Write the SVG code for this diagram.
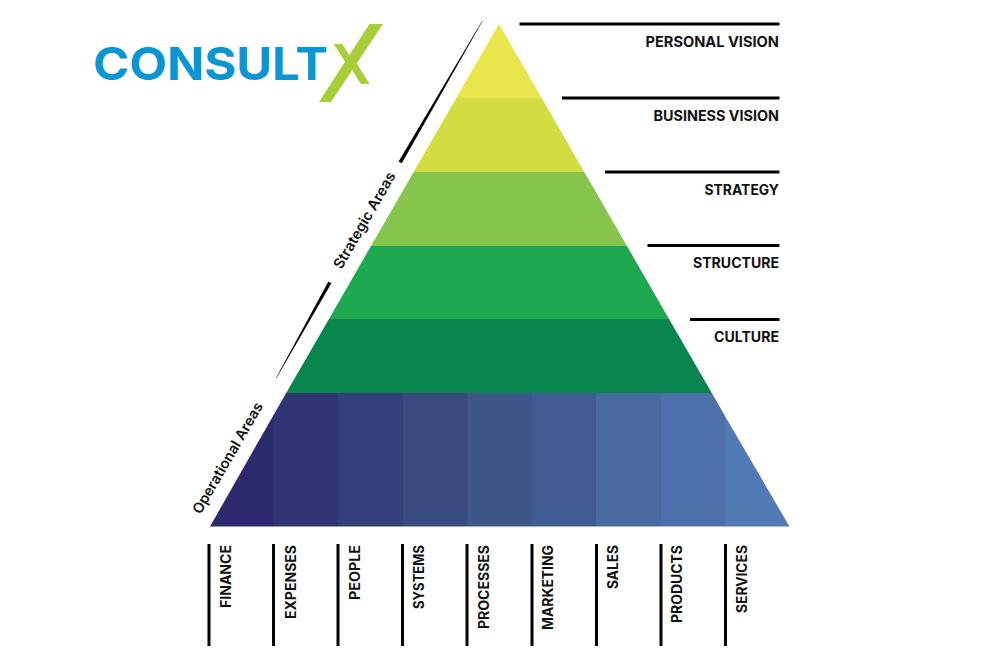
<svg xmlns="http://www.w3.org/2000/svg" width="1000" height="667" viewBox="0 0 1000 667">
<style>
.l{font-family:Inter,"Open Sans","Liberation Sans",sans-serif;font-weight:700;font-size:14px;fill:#111;}
.h{text-anchor:end;}
.r{font-size:14.500px;font-weight:600;}
.rule{stroke:#000;stroke-width:3;fill:none;}
.logo{font-family:Inter,"Liberation Sans",sans-serif;font-weight:700;font-size:45px;fill:#0a96d4;}
.x{font-family:"Liberation Sans",Arial,sans-serif;font-weight:700;font-size:57px;fill:#a6ce39;}
</style>
<rect width="1000" height="667" fill="#fff"/>
<g id="logo">
<text class="logo" x="93" y="80" textLength="235" lengthAdjust="spacingAndGlyphs">CONSULT</text>
<text class="x" x="332" y="84">X</text>
<polygon points="369.500,24 383,24 331,102 319,102" fill="#a6ce39"/>
</g>
<g id="pyramid">
<polygon id="level-personal-vision" points="499,24 541.700,98 456.300,98" fill="#e9e64c"/>
<polygon id="level-business-vision" points="456.300,98 541.700,98 584.300,172 413.700,172" fill="#d1dd40"/>
<polygon id="level-strategy" points="413.700,172 584.300,172 627,246 371,246" fill="#85c54e"/>
<polygon id="level-structure" points="371,246 627,246 669,319 329,319" fill="#1ea850"/>
<polygon id="level-culture" points="329,319 669,319 711.800,393 286.200,393" fill="#07854c"/>
<polygon id="col-finance" points="274,414.200 274,526.500 210,526.500" fill="#2c2a6d"/>
<polygon id="col-expenses" points="274,414.200 286.200,393 338,393 338,526.500 274,526.500" fill="#2e3572"/>
<rect id="col-people" x="338" y="393" width="65" height="133.500" fill="#33407a"/>
<rect id="col-systems" x="403" y="393" width="64" height="133.500" fill="#394a80"/>
<rect id="col-processes" x="467" y="393" width="65" height="133.500" fill="#3e5587"/>
<rect id="col-marketing" x="532" y="393" width="64" height="133.500" fill="#405b91"/>
<rect id="col-sales" x="596" y="393" width="65" height="133.500" fill="#486a9f"/>
<polygon id="col-products" points="661,393 711.800,393 725,416 725,526.500 661,526.500" fill="#4e70aa"/>
<polygon id="col-services" points="725,416 789.500,526.500 725,526.500" fill="#527bb5"/>
</g>
<g id="connectors">
<line class="rule" x1="519.500" y1="24" x2="779.500" y2="24"/>
<line class="rule" x1="562" y1="98" x2="779.500" y2="98"/>
<line class="rule" x1="605" y1="172" x2="779.500" y2="172"/>
<line class="rule" x1="647.500" y1="245.500" x2="779.500" y2="245.500"/>
<line class="rule" x1="690" y1="319.500" x2="779.500" y2="319.500"/>
<line class="rule" x1="209" y1="544" x2="209" y2="646"/>
<line class="rule" x1="273.500" y1="544" x2="273.500" y2="646"/>
<line class="rule" x1="338" y1="544" x2="338" y2="646"/>
<line class="rule" x1="402.500" y1="544" x2="402.500" y2="646"/>
<line class="rule" x1="467" y1="544" x2="467" y2="646"/>
<line class="rule" x1="532" y1="544" x2="532" y2="646"/>
<line class="rule" x1="596.500" y1="544" x2="596.500" y2="646"/>
<line class="rule" x1="661" y1="544" x2="661" y2="646"/>
<line class="rule" x1="725.500" y1="544" x2="725.500" y2="646"/>
<polygon points="482,21 482.400,21.300 401.800,163.300 398.600,161.500" fill="#000"/>
<polygon points="328.400,281.500 331.400,283.300 276.500,378 276.100,377.800" fill="#000"/>
</g>
<g id="labels">
<text class="l h" x="779" y="47" textLength="133.500" lengthAdjust="spacingAndGlyphs">PERSONAL VISION</text>
<text class="l h" x="779" y="121" textLength="125.500" lengthAdjust="spacingAndGlyphs">BUSINESS VISION</text>
<text class="l h" x="779" y="194.500" textLength="74.500" lengthAdjust="spacingAndGlyphs">STRATEGY</text>
<text class="l h" x="779" y="268" textLength="86" lengthAdjust="spacingAndGlyphs">STRUCTURE</text>
<text class="l h" x="779" y="342" textLength="65" lengthAdjust="spacingAndGlyphs">CULTURE</text>
<text class="l h" transform="translate(231 545) rotate(-90)" textLength="63" lengthAdjust="spacingAndGlyphs">FINANCE</text>
<text class="l h" transform="translate(295.500 545) rotate(-90)" textLength="74" lengthAdjust="spacingAndGlyphs">EXPENSES</text>
<text class="l h" transform="translate(359.500 545) rotate(-90)" textLength="55" lengthAdjust="spacingAndGlyphs">PEOPLE</text>
<text class="l h" transform="translate(424 545) rotate(-90)" textLength="64" lengthAdjust="spacingAndGlyphs">SYSTEMS</text>
<text class="l h" transform="translate(488.500 545) rotate(-90)" textLength="84" lengthAdjust="spacingAndGlyphs">PROCESSES</text>
<text class="l h" transform="translate(553 545) rotate(-90)" textLength="85" lengthAdjust="spacingAndGlyphs">MARKETING</text>
<text class="l h" transform="translate(617.500 545) rotate(-90)" textLength="44" lengthAdjust="spacingAndGlyphs">SALES</text>
<text class="l h" transform="translate(682 545) rotate(-90)" textLength="78" lengthAdjust="spacingAndGlyphs">PRODUCTS</text>
<text class="l h" transform="translate(746.500 545) rotate(-90)" textLength="68" lengthAdjust="spacingAndGlyphs">SERVICES</text>
<text class="l r" transform="translate(200.500 515) rotate(-60)" textLength="126" lengthAdjust="spacingAndGlyphs">Operational Areas</text>
<text class="l r" transform="translate(341.500 270) rotate(-60)" textLength="109" lengthAdjust="spacingAndGlyphs">Strategic Areas</text>
</g>
</svg>
